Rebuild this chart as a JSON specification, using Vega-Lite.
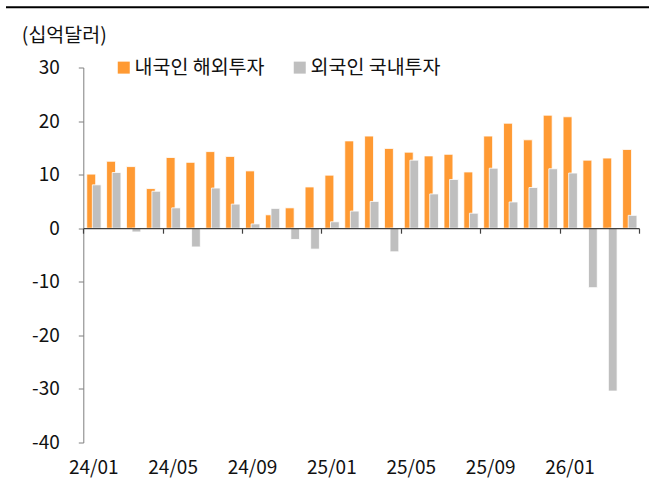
{
  "$schema": "https://vega.github.io/schema/vega-lite/v6.json",
  "width": 643,
  "height": 375,
  "autosize": {"type": "none"},
  "padding": {"left": 6, "top": 67.5, "right": 12, "bottom": 47.5},
  "background": "white",
  "config": {"view": {"stroke": null}, "font": "Noto Sans CJK KR"},
  "data": {"values": [
    {"m": "24/01", "s": "내국인 해외투자", "v": 10.1}, {"m": "24/01", "s": "외국인 국내투자", "v": 8.1},
    {"m": "24/02", "s": "내국인 해외투자", "v": 12.5}, {"m": "24/02", "s": "외국인 국내투자", "v": 10.4},
    {"m": "24/03", "s": "내국인 해외투자", "v": 11.5}, {"m": "24/03", "s": "외국인 국내투자", "v": -0.7},
    {"m": "24/04", "s": "내국인 해외투자", "v": 7.4}, {"m": "24/04", "s": "외국인 국내투자", "v": 6.9},
    {"m": "24/05", "s": "내국인 해외투자", "v": 13.2}, {"m": "24/05", "s": "외국인 국내투자", "v": 3.8},
    {"m": "24/06", "s": "내국인 해외투자", "v": 12.3}, {"m": "24/06", "s": "외국인 국내투자", "v": -3.5},
    {"m": "24/07", "s": "내국인 해외투자", "v": 14.3}, {"m": "24/07", "s": "외국인 국내투자", "v": 7.5},
    {"m": "24/08", "s": "내국인 해외투자", "v": 13.4}, {"m": "24/08", "s": "외국인 국내투자", "v": 4.5},
    {"m": "24/09", "s": "내국인 해외투자", "v": 10.7}, {"m": "24/09", "s": "외국인 국내투자", "v": 0.8},
    {"m": "24/10", "s": "내국인 해외투자", "v": 2.5}, {"m": "24/10", "s": "외국인 국내투자", "v": 3.7},
    {"m": "24/11", "s": "내국인 해외투자", "v": 3.8}, {"m": "24/11", "s": "외국인 국내투자", "v": -2.1},
    {"m": "24/12", "s": "내국인 해외투자", "v": 7.7}, {"m": "24/12", "s": "외국인 국내투자", "v": -3.9},
    {"m": "25/01", "s": "내국인 해외투자", "v": 9.9}, {"m": "25/01", "s": "외국인 국내투자", "v": 1.2},
    {"m": "25/02", "s": "내국인 해외투자", "v": 16.3}, {"m": "25/02", "s": "외국인 국내투자", "v": 3.2},
    {"m": "25/03", "s": "내국인 해외투자", "v": 17.2}, {"m": "25/03", "s": "외국인 국내투자", "v": 5.0},
    {"m": "25/04", "s": "내국인 해외투자", "v": 14.9}, {"m": "25/04", "s": "외국인 국내투자", "v": -4.4},
    {"m": "25/05", "s": "내국인 해외투자", "v": 14.2}, {"m": "25/05", "s": "외국인 국내투자", "v": 12.7},
    {"m": "25/06", "s": "내국인 해외투자", "v": 13.5}, {"m": "25/06", "s": "외국인 국내투자", "v": 6.4},
    {"m": "25/07", "s": "내국인 해외투자", "v": 13.8}, {"m": "25/07", "s": "외국인 국내투자", "v": 9.1},
    {"m": "25/08", "s": "내국인 해외투자", "v": 10.5}, {"m": "25/08", "s": "외국인 국내투자", "v": 2.8},
    {"m": "25/09", "s": "내국인 해외투자", "v": 17.2}, {"m": "25/09", "s": "외국인 국내투자", "v": 11.2},
    {"m": "25/10", "s": "내국인 해외투자", "v": 19.6}, {"m": "25/10", "s": "외국인 국내투자", "v": 4.9},
    {"m": "25/11", "s": "내국인 해외투자", "v": 16.5}, {"m": "25/11", "s": "외국인 국내투자", "v": 7.6},
    {"m": "25/12", "s": "내국인 해외투자", "v": 21.1}, {"m": "25/12", "s": "외국인 국내투자", "v": 11.1},
    {"m": "26/01", "s": "내국인 해외투자", "v": 20.8}, {"m": "26/01", "s": "외국인 국내투자", "v": 10.3},
    {"m": "26/02", "s": "내국인 해외투자", "v": 12.7}, {"m": "26/02", "s": "외국인 국내투자", "v": -11.1},
    {"m": "26/03", "s": "내국인 해외투자", "v": 13.1}, {"m": "26/03", "s": "외국인 국내투자", "v": -30.4},
    {"m": "26/04", "s": "내국인 해외투자", "v": 14.7}, {"m": "26/04", "s": "외국인 국내투자", "v": 2.4}
  ]},
  "layer": [
    {
      "transform": [{"filter": "datum.s === '내국인 해외투자'"}],
      "mark": {"type": "bar", "width": {"band": 0.45}, "xOffset": -2, "stroke": "white", "strokeWidth": 0.8},
      "encoding": {
        "x": {"field": "m", "type": "ordinal", "sort": null,
          "scale": {"range": [77.3, 633], "paddingInner": 0, "paddingOuter": 0},
          "axis": {"title": null, "orient": "bottom", "offset": -214.3, "labelAngle": 0, "tickBand": "extent", "tickSize": 5,
            "domainColor": "#404040", "tickColor": "#404040", "domainWidth": 1.2, "tickWidth": 1.2,
            "labelFontSize": 19, "labelColor": "#111111", "labelPadding": 225, "labelOverlap": false, "labelFont": "Noto Sans CJK KR",
            "labelExpr": "indexof(['24/01','24/05','24/09','25/01','25/05','25/09','26/01'], datum.label) >= 0 ? datum.label : ''",
            "tickOpacity": {"condition": {"test": "datum.extra || indexof(['24/04','24/08','24/12','25/04','25/08','25/12','26/04'], datum.value) >= 0", "value": 1}, "value": 0},
            "zindex": 1}},
        "y": {"field": "v", "type": "quantitative", "scale": {"domain": [-40, 30]},
          "axis": {"title": "(십억달러)", "titleAngle": 0, "titleAlign": "left", "titleBaseline": "middle",
            "titleX": -62, "titleY": -32.5, "titleFontSize": 19.5, "titleFontWeight": "normal", "titleColor": "#111111", "titleFont": "Noto Sans CJK KR",
            "values": [-40, -30, -20, -10, 0, 10, 20, 30], "labelExpr": "toString(datum.value)", "offset": -77.3, "grid": false,
            "domainColor": "#7f7f7f", "tickColor": "#7f7f7f", "tickSize": 5, "labelFontSize": 19, "labelColor": "#111111",
            "labelPadding": 19, "labelFont": "Noto Sans CJK KR"}},
        "color": {"field": "s", "type": "nominal",
          "scale": {"domain": ["내국인 해외투자", "외국인 국내투자"], "range": ["#FF9A33", "#BFBFBF"]},
          "legend": {"title": null, "orient": "none", "legendX": 108, "legendY": -10, "direction": "horizontal",
            "symbolType": "square", "symbolSize": 144, "symbolStrokeWidth": 0, "symbolOpacity": 1,
            "labelFontSize": 19.5, "labelOffset": 1, "columnPadding": 25, "labelColor": "#111111", "labelFont": "Noto Sans CJK KR"}}
      }
    },
    {
      "transform": [{"filter": "datum.s === '외국인 국내투자'"}],
      "mark": {"type": "bar", "width": {"band": 0.44}, "xOffset": 3.5, "stroke": "white", "strokeWidth": 0.8},
      "encoding": {
        "x": {"field": "m", "type": "ordinal", "sort": null},
        "y": {"field": "v", "type": "quantitative"},
        "color": {"field": "s", "type": "nominal"}
      }
    },
    {
      "data": {"values": [{}]},
      "mark": {"type": "rule", "color": "black", "strokeWidth": 2},
      "encoding": {"y": {"datum": 41.24}}
    }
  ]
}
